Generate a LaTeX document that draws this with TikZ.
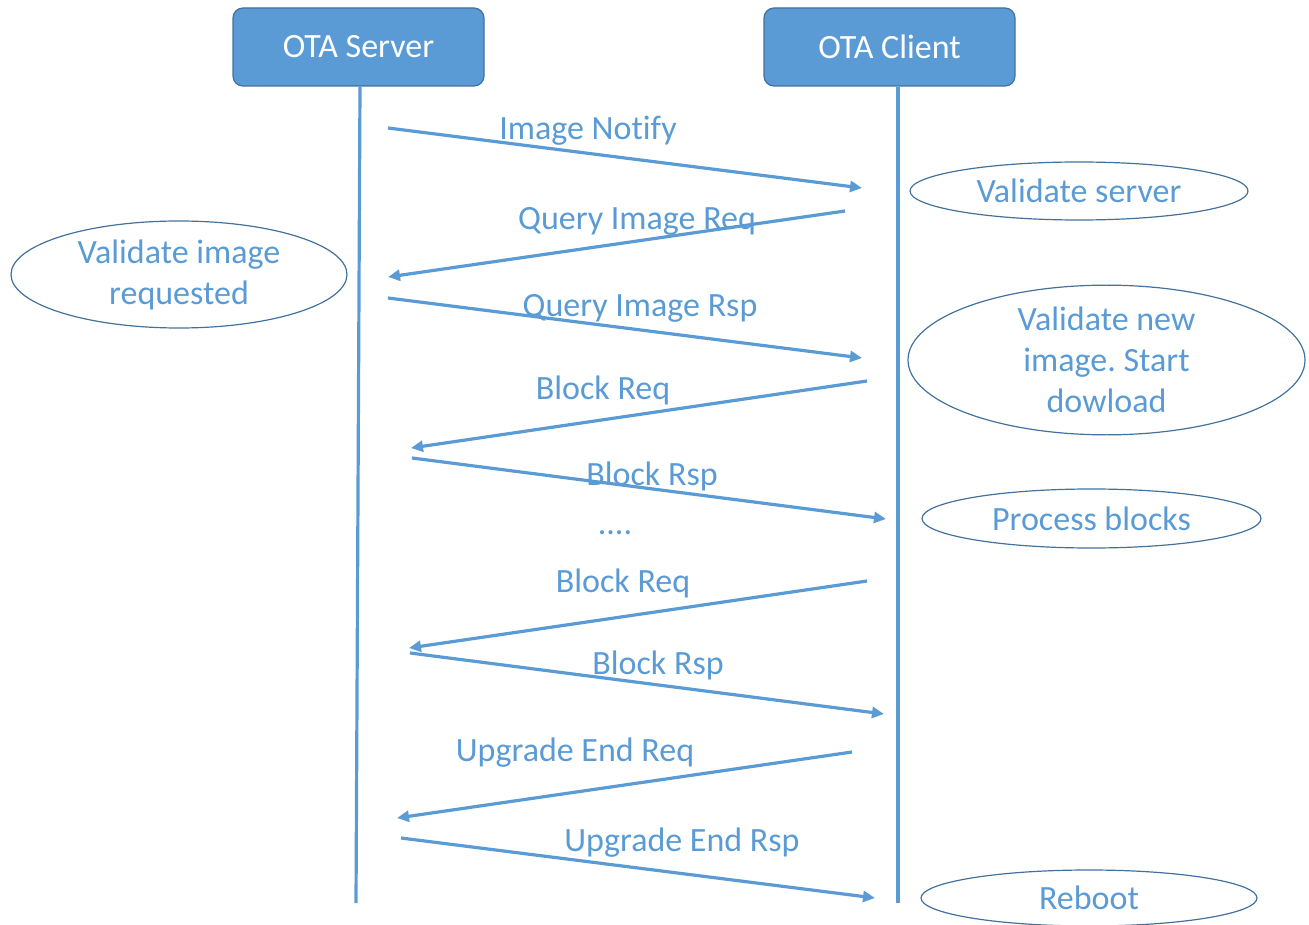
\documentclass[tikz,border=0pt]{standalone}
\usepackage{fontspec}
\setmainfont[Ligatures=NoCommon]{Carlito}
\usetikzlibrary{arrows.meta,shapes.geometric}
\definecolor{otablue}{HTML}{5B9BD5}
\definecolor{otaedge}{HTML}{41719C}
\frenchspacing
\begin{document}
\begin{tikzpicture}[x=1pt,y=-1pt,
  every node/.style={font=\fontsize{34}{41}\selectfont},
  actor/.style={draw=otaedge,line width=1.2pt,fill=otablue,rounded corners=10pt,
    minimum width=251pt,minimum height=78pt,text=white,inner sep=0pt},
  lifeline/.style={draw=otablue,line width=3.2pt},
  msg/.style={draw=otablue,line width=3.2pt,-{Triangle[length=12pt,width=11pt]}},
  msglabel/.style={text=otablue,inner sep=0pt},
  note/.style={ellipse,draw=otaedge,line width=1.2pt,text=otablue,align=center,inner sep=0pt}]
\useasboundingbox (0,0) rectangle (1309,925);

% participants
\node[actor] (server) at (358.5,47) {OTA Server};
\node[actor] (client) at (889.5,47) {OTA Client};

% lifelines
\coordinate (sEnd) at (356,903);
\coordinate (cEnd) at (898,903);
\draw[lifeline] ([xshift=1.5pt]server.south) -- (sEnd);
\draw[lifeline] ([xshift=8.5pt]client.south) -- (cEnd);

% message end points
\coordinate (m1a) at (388,128);  \coordinate (m1b) at (862,188);
\coordinate (m2a) at (845,211);  \coordinate (m2b) at (388,277);
\coordinate (m3a) at (388,298);  \coordinate (m3b) at (862,358);
\coordinate (m4a) at (867,381);  \coordinate (m4b) at (411,448);
\coordinate (m5a) at (412,458);  \coordinate (m5b) at (886,519);
\coordinate (m7a) at (867,581);  \coordinate (m7b) at (409,648);
\coordinate (m8a) at (410,653);  \coordinate (m8b) at (884,714);
\coordinate (m9a) at (852,752);  \coordinate (m9b) at (397,818);
\coordinate (m10a) at (401,838); \coordinate (m10b) at (875,898);

% messages
\draw[msg] (m1a) -- (m1b);
\draw[msg] (m2a) -- (m2b);
\draw[msg] (m3a) -- (m3b);
\draw[msg] (m4a) -- (m4b);
\draw[msg] (m5a) -- (m5b);
\draw[msg] (m7a) -- (m7b);
\draw[msg] (m8a) -- (m8b);
\draw[msg] (m9a) -- (m9b);
\draw[msg] (m10a) -- (m10b);

% message labels
\node[msglabel] (l1) at (588,131) {Image Notify};
\node[msglabel] (l2) at (637,221) {Query Image Req};
\node[msglabel] (l3) at (640,308) {Query Image Rsp};
\node[msglabel] (l4) at (603,390) {Block Req};
\node[msglabel] (l5) at (652,476) {Block Rsp};
\node[msglabel] (l6) at (615,533) {....};
\node[msglabel] (l7) at (623,583) {Block Req};
\node[msglabel] (l8) at (658,665) {Block Rsp};
\node[msglabel] (l9) at (575,753) {Upgrade End Req};
\node[msglabel] (l10) at (682,843) {Upgrade End Rsp};

% notes
\node[note,minimum width=338pt,minimum height=58pt] (n1) at (1079,191) {Validate server};
\node[note,minimum width=336pt,minimum height=107pt] (n2) at (179,274.5) {Validate image\\requested};
\node[note,minimum width=397pt,minimum height=130pt] (n3) at (1106.5,360) {Validate new\\image. Start\\dowload};
\node[note,minimum width=339pt,minimum height=59pt] (n4) at (1091.5,518.5) {Process blocks};
\node[note,minimum width=336pt,minimum height=56pt] (n5) at (1089,898) {Reboot};
\end{tikzpicture}
\end{document}
